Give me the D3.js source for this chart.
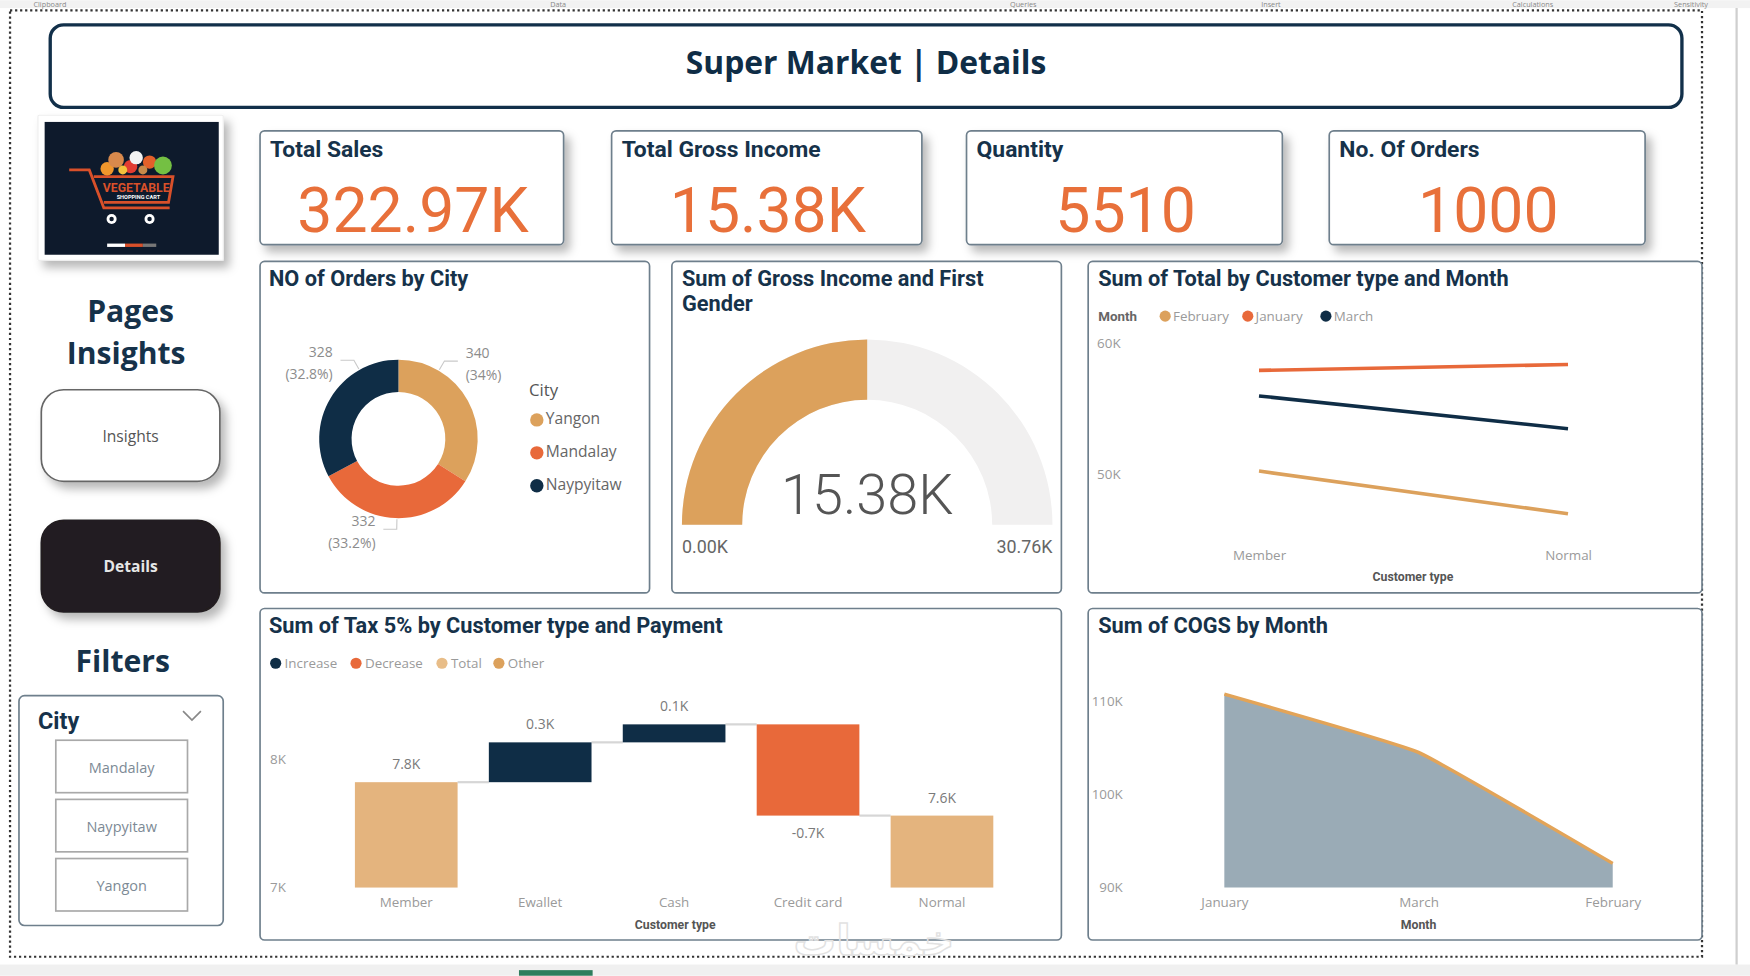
<!DOCTYPE html>
<html>
<head>
<meta charset="utf-8">
<script src="https://cdn.jsdelivr.net/npm/d3@7"></script>
<style>
  body { margin: 0; background: #fff; }
  svg { display: block; }
</style>
</head>
<body>
<div id="dash"></div>
<script>
// ---- data ----
const kpiTitles = ["Total Sales", "Total Gross Income", "Quantity", "No. Of Orders"];
const kpiValues = ["322.97K", "15.38K", "5510", "1000"];

const cities = ["Yangon", "Mandalay", "Naypyitaw"];
const cityOrders = [340, 332, 328];

const grossIncome = 15380;
const grossMax = 30760;

const custTypes = ["Member", "Normal"];
const months = ["February", "January", "March"];
const totalFeb = [50260, 47000];
const totalJan = [57950, 58400];
const totalMar = [56000, 53500];
const lineTicks = [50000, 60000];

const taxSteps = ["Member", "Ewallet", "Cash", "Credit card", "Normal"];
const taxValues = [7820, 310, 140, -710, 7560];
const taxKinds = ["total", "increase", "increase", "decrease", "total"];
const taxLabels = ["7.8K", "0.3K", "0.1K", "-0.7K", "7.6K"];
const taxTicks = [7000, 8000];
const taxLegend = ["Increase", "Decrease", "Total", "Other"];

const cogsMonths = ["January", "March", "February"];
const cogsValues = [110750, 104500, 92590];
const cogsTicks = [90000, 100000, 110000];

const cityFilter = ["Mandalay", "Naypyitaw", "Yangon"];
const ribbonTabs = ["Clipboard", "Data", "Queries", "Insert", "Calculations", "Sensitivity"];

// ---- look ----
const navy = "#0f2d46", orange = "#e8693a", tan = "#dca15c", lightTan = "#e4b47e";
const kpiOrange = "#e8703a", ink = "#16324a", axisGrey = "#9a9a9a", border = "#6e7f8c";
const fDin = "Roboto, 'Noto Sans', sans-serif";
const fUi = "'Open Sans', 'Noto Sans', sans-serif";

const svg = d3.select("#dash")
    .append("svg")
    .attr("width", 1750)
    .attr("height", 976)
    .attr("viewBox", "0 0 1568 874");

const defs = svg.append("defs");
const shadow = defs.append("filter").attr("id", "shadow")
    .attr("x", "-20%").attr("y", "-20%").attr("width", "150%").attr("height", "170%");
shadow.append("feDropShadow").attr("dx", 5).attr("dy", 6).attr("stdDeviation", 4.5)
    .attr("flood-color", "#000").attr("flood-opacity", 0.28);

function panel(x, y, w, h, opts = {}) {
    return svg.append("rect")
        .attr("x", x).attr("y", y).attr("width", w).attr("height", h)
        .attr("rx", opts.rx || 4)
        .attr("fill", opts.fill || "#fff")
        .attr("stroke", opts.stroke || border)
        .attr("stroke-width", opts.sw || 1.5)
        .attr("filter", opts.shadow ? "url(#shadow)" : null);
}

function label(x, y, str, size, opts = {}) {
    return svg.append("text")
        .attr("x", x).attr("y", y)
        .attr("font-family", opts.font || fDin)
        .attr("font-size", size)
        .attr("font-weight", opts.weight || "normal")
        .attr("fill", opts.fill || ink)
        .attr("text-anchor", opts.anchor || "start")
        .attr("dominant-baseline", opts.baseline || "auto")
        .text(str);
}

// ---- page chrome ----
svg.append("rect").attr("width", 1568).attr("height", 874).attr("fill", "#fff");
svg.append("rect").attr("width", 1568).attr("height", 7).attr("fill", "#f2f2f2");
const tabX = [30, 493, 905, 1130, 1355, 1500];
ribbonTabs.forEach((t, i) => label(tabX[i], 6, t, 6.5, {font: fUi, fill: "#888"}));
svg.append("rect").attr("x", 0).attr("y", 864).attr("width", 1568).attr("height", 10).attr("fill", "#f0f0f0");
svg.append("rect").attr("x", 465).attr("y", 869).attr("width", 66).attr("height", 5).attr("fill", "#2f7d5d");
svg.append("line").attr("x1", 1556).attr("x2", 1556).attr("y1", 7).attr("y2", 864)
    .attr("stroke", "#cfcfcf").attr("stroke-width", 2);
svg.append("rect").attr("x", 9).attr("y", 9).attr("width", 1516).attr("height", 848)
    .attr("fill", "none").attr("stroke", "#333").attr("stroke-width", 2)
    .attr("stroke-dasharray", "2,2.5");

// header
panel(45, 22, 1462, 74, {rx: 12, stroke: "#12304a", sw: 3});
label(776, 66, "Super Market | Details", 28.5, {font: fUi, weight: "bold", anchor: "middle", fill: "#0f2d46"});

// logo
panel(34, 103, 166, 130, {rx: 1, stroke: "#eee", sw: 1, shadow: true});
svg.append("rect").attr("x", 40).attr("y", 109).attr("width", 156).attr("height", 119).attr("fill", "#0e1a2c");
const cart = svg.append("g").attr("fill", "none").attr("stroke", "#d9502a").attr("stroke-width", 2.5);
cart.append("path").attr("d", "M62,152 L80,152 L93,186 L152,186");
cart.append("path").attr("d", "M84,158 L155,158 L151,181 L93,181");
const veg = [[96, 151, 6, "#f0962c"], [104, 143, 7, "#d8894c"], [117, 149, 6, "#e23c32"], [122, 141, 6, "#f3f3f3"],
             [134, 145, 6, "#e3602a"], [146, 148, 8, "#74c043"], [110, 152, 4, "#f4c23c"], [128, 152, 4, "#c98b4a"]];
svg.append("g").selectAll("circle").data(veg).join("circle")
    .attr("cx", d => d[0]).attr("cy", d => d[1]).attr("r", d => d[2]).attr("fill", d => d[3]);
label(122, 172, "VEGETABLE", 11, {font: fDin, weight: "bold", anchor: "middle", fill: "#d9502a"});
label(124, 178, "SHOPPING CART", 5, {font: fDin, weight: "bold", anchor: "middle", fill: "#fff"});
[100, 134].forEach(cx => {
    svg.append("circle").attr("cx", cx).attr("cy", 196).attr("r", 4.5).attr("fill", "#fff");
    svg.append("circle").attr("cx", cx).attr("cy", 196).attr("r", 2).attr("fill", "#0e1a2c");
});
svg.append("rect").attr("x", 96).attr("y", 218).attr("width", 16).attr("height", 3).attr("fill", "#fff");
svg.append("rect").attr("x", 112).attr("y", 218).attr("width", 16).attr("height", 3).attr("fill", "#d9502a");
svg.append("rect").attr("x", 128).attr("y", 218).attr("width", 12).attr("height", 3).attr("fill", "#777");

// side navigation
label(117, 288, "Pages", 27, {font: fUi, weight: "bold", anchor: "middle"});
label(113, 326, "Insights", 27, {font: fUi, weight: "bold", anchor: "middle"});
panel(37, 349, 160, 82, {rx: 20, stroke: "#666", sw: 1.5, shadow: true});
label(117, 396, "Insights", 14, {font: fUi, anchor: "middle", fill: "#555"});
panel(37, 466, 160, 82, {rx: 20, fill: "#231f20", stroke: "#231f20", shadow: true});
label(117, 512, "Details", 14, {font: fUi, weight: "bold", anchor: "middle", fill: "#e6e6e6"});
label(110, 602, "Filters", 27, {font: fUi, weight: "bold", anchor: "middle"});

// city slicer
panel(17, 623, 183, 206, {rx: 5});
label(34, 653, "City", 21, {weight: "bold"});
svg.append("path").attr("d", "M164,637 L172,645 L180,637").attr("fill", "none")
    .attr("stroke", "#888").attr("stroke-width", 1.5);
cityFilter.forEach((c, i) => {
    const y0 = 663 + i * 53;
    svg.append("rect").attr("x", 50).attr("y", y0).attr("width", 118).attr("height", 47)
        .attr("fill", "#fff").attr("stroke", "#a9a9a9").attr("stroke-width", 1.5);
    label(109, y0 + 29, c, 13, {font: fUi, anchor: "middle", fill: "#7d8a95"});
});

// ---- KPI cards ----
const kpiBoxes = [[233, 272], [548, 278], [866, 283], [1191, 283]];
kpiTitles.forEach((t, i) => {
    const [x, w] = kpiBoxes[i];
    panel(x, 117, w, 102, {shadow: true});
    label(x + 9, 140, t, 20.5, {weight: "bold"});
    label(x + w / 2 + 1, 208, kpiValues[i], 56, {anchor: "middle", fill: kpiOrange});
});

// ---- chart panels ----
panel(233, 234, 349, 297);
panel(602, 234, 349, 297);
panel(975, 234, 550, 297);
panel(233, 545, 718, 297);
panel(975, 545, 550, 297);

// ---- donut: NO of Orders by City ----
label(241, 256, "NO of Orders by City", 19.5, {weight: "bold"});
const donutC = [357, 393], rOut = 71, rIn = 42;
const cityColor = d3.scaleOrdinal().domain(cities).range([tan, orange, navy]);
const pie = d3.pie().sort(null).value(d => d.v);
const slices = pie(cities.map((c, i) => ({c, v: cityOrders[i]})));
const arc = d3.arc().innerRadius(rIn).outerRadius(rOut);
const donut = svg.append("g").attr("transform", `translate(${donutC})`);
donut.selectAll("path").data(slices).join("path")
    .attr("d", arc).attr("fill", d => cityColor(d.data.c));
const totalOrders = d3.sum(cityOrders);
slices.forEach(s => {
    const mid = (s.startAngle + s.endAngle) / 2;
    const nearest = Math.round(mid / Math.PI) * Math.PI;
    const a = nearest + (mid - nearest) * 0.5;
    const p1 = [(rOut + 1) * Math.sin(a), -(rOut + 1) * Math.cos(a)];
    const p2 = [(rOut + 10) * Math.sin(a), -(rOut + 10) * Math.cos(a)];
    const side = Math.sin(a) > 0.05 ? 1 : -1;
    const p3 = [p2[0] + side * 12, p2[1]];
    donut.append("polyline").attr("points", [p1, p2, p3].join(" "))
        .attr("fill", "none").attr("stroke", "#c9c9c9").attr("stroke-width", 1);
    const pct = d3.format(".3~")(s.data.v / totalOrders * 100) + "%";
    [s.data.v, `(${pct})`].forEach((t, k) => {
        donut.append("text")
            .attr("x", p3[0] + side * 7).attr("y", p3[1] - 6 + k * 19.5)
            .attr("dominant-baseline", "middle")
            .attr("text-anchor", side > 0 ? "start" : "end")
            .attr("font-family", fUi).attr("font-size", 12.5).attr("fill", "#8c8c8c")
            .text(t);
    });
});
label(474, 351, "City", 15, {font: fUi, fill: "#555", baseline: "middle"});
cities.forEach((c, i) => {
    const y0 = 376 + i * 29.5;
    svg.append("circle").attr("cx", 481).attr("cy", y0).attr("r", 6).attr("fill", cityColor(c));
    label(489, y0, c, 14, {font: fUi, fill: "#666", baseline: "middle"});
});

// ---- gauge: Sum of Gross Income ----
label(611, 256, "Sum of Gross Income and First", 19.5, {weight: "bold"});
label(611, 278, "Gender", 19.5, {weight: "bold"});
const gaugeC = [777, 470];
const gScale = d3.scaleLinear().domain([0, grossMax]).range([-Math.PI / 2, Math.PI / 2]);
const gArc = d3.arc().innerRadius(112).outerRadius(166);
const gauge = svg.append("g").attr("transform", `translate(${gaugeC})`);
gauge.append("path").attr("d", gArc({startAngle: gScale(0), endAngle: gScale(grossMax)})).attr("fill", "#f1f0f0");
gauge.append("path").attr("d", gArc({startAngle: gScale(0), endAngle: gScale(grossIncome)})).attr("fill", tan);
const kFmt = v => (v / 1000).toFixed(2) + "K";
label(777, 460, kFmt(grossIncome), 50, {weight: 300, anchor: "middle", fill: "#555"});
label(611, 495, kFmt(0), 16, {fill: "#666"});
label(943, 495, kFmt(grossMax), 16, {fill: "#666", anchor: "end"});

// ---- lines: Sum of Total by Customer type and Month ----
label(984, 256, "Sum of Total by Customer type and Month", 19.5, {weight: "bold"});
const monthColor = d3.scaleOrdinal().domain(months).range([tan, orange, navy]);
label(984, 284, "Month", 12, {weight: "bold", fill: "#666", baseline: "middle"});
const monthLegX = [1044, 1118, 1188];
months.forEach((m, i) => {
    svg.append("circle").attr("cx", monthLegX[i]).attr("cy", 283).attr("r", 5).attr("fill", monthColor(m));
    label(monthLegX[i] + 7, 284, m, 12, {font: fUi, fill: axisGrey, baseline: "middle"});
});
const xLine = d3.scalePoint().domain(custTypes).range([1045, 1488]).padding(0.3);
const yLine = d3.scaleLinear().domain([45300, 61500]).range([480, 290]);
const kTick = d => d / 1000 + "K";
svg.append("g").attr("transform", "translate(983,0)")
    .call(d3.axisRight(yLine).tickValues(lineTicks).tickFormat(kTick).tickSize(0).tickPadding(0));
svg.append("g").attr("transform", "translate(0,490)")
    .call(d3.axisBottom(xLine).tickSize(0).tickPadding(3));
const lineSeries = [totalFeb, totalJan, totalMar];
const lineGen = d3.line().x((d, i) => xLine(custTypes[i])).y(d => yLine(d));
svg.append("g").selectAll("path").data(lineSeries).join("path")
    .attr("d", lineGen).attr("fill", "none")
    .attr("stroke", (d, i) => monthColor(months[i])).attr("stroke-width", 3.2);
label(1266, 520, "Customer type", 11, {weight: "bold", fill: "#555", anchor: "middle"});

// ---- waterfall: Sum of Tax 5% ----
label(241, 567, "Sum of Tax 5% by Customer type and Payment", 19.5, {weight: "bold"});
const kindColor = {increase: navy, decrease: orange, total: lightTan};
const legColor = [navy, orange, "#e8bd88", tan];
const taxLegX = [247, 319, 396, 447];
taxLegend.forEach((t, i) => {
    svg.append("circle").attr("cx", taxLegX[i]).attr("cy", 594).attr("r", 5).attr("fill", legColor[i]);
    label(taxLegX[i] + 8, 595, t, 12, {font: fUi, fill: axisGrey, baseline: "middle"});
});
const xTax = d3.scaleBand().domain(taxSteps).range([264, 944]).paddingInner(0.2333).paddingOuter(0.45);
const yTax = d3.scaleLinear().domain([7000, 8520]).range([795, 620]);
let running = 0;
const taxBars = taxSteps.map((s, i) => {
    let lo, hi;
    if (taxKinds[i] === "total") {
        lo = yTax.domain()[0]; hi = taxValues[i]; running = taxValues[i];
    } else {
        lo = running; hi = running + taxValues[i]; running = hi;
    }
    return {s, lo, hi, kind: taxKinds[i], end: running, lab: taxLabels[i], v: taxValues[i]};
});
const wf = svg.append("g");
taxBars.slice(0, -1).forEach((b, i) => {
    wf.append("line")
        .attr("x1", xTax(b.s) + xTax.bandwidth()).attr("x2", xTax(taxBars[i + 1].s))
        .attr("y1", yTax(b.end)).attr("y2", yTax(b.end))
        .attr("stroke", "#d6d6d6").attr("stroke-width", 2);
});
wf.selectAll("rect").data(taxBars).join("rect")
    .attr("x", d => xTax(d.s)).attr("width", xTax.bandwidth())
    .attr("y", d => yTax(Math.max(d.lo, d.hi)))
    .attr("height", d => Math.abs(yTax(d.lo) - yTax(d.hi)))
    .attr("fill", d => kindColor[d.kind]);
wf.selectAll("text").data(taxBars).join("text")
    .attr("x", d => xTax(d.s) + xTax.bandwidth() / 2)
    .attr("y", d => d.v < 0 ? yTax(d.hi) + 17 : yTax(Math.max(d.lo, d.hi)) - 15)
    .attr("text-anchor", "middle").attr("dominant-baseline", "middle")
    .attr("font-family", fUi).attr("font-size", 12.5).attr("fill", "#7a7a7a")
    .text(d => d.lab);
svg.append("g").attr("transform", "translate(242,0)")
    .call(d3.axisRight(yTax).tickValues(taxTicks).tickFormat(kTick).tickSize(0).tickPadding(0));
svg.append("g").attr("transform", "translate(0,801)")
    .call(d3.axisBottom(xTax).tickSize(0).tickPadding(3));
label(605, 832, "Customer type", 11, {weight: "bold", fill: "#555", anchor: "middle"});

// ---- area: Sum of COGS by Month ----
label(984, 567, "Sum of COGS by Month", 19.5, {weight: "bold"});
const xCogs = d3.scalePoint().domain(cogsMonths).range([1097, 1445]);
const yCogs = d3.scaleLinear().domain([90000, 113350]).range([795, 600]);
const cogsPts = cogsMonths.map((m, i) => ({m, v: cogsValues[i]}));
const cogsCurve = d3.curveCardinal.tension(0.7);
svg.append("path").datum(cogsPts)
    .attr("d", d3.area().curve(cogsCurve).x(d => xCogs(d.m)).y0(yCogs(90000)).y1(d => yCogs(d.v)))
    .attr("fill", "#9aabb6");
svg.append("path").datum(cogsPts)
    .attr("d", d3.line().curve(cogsCurve).x(d => xCogs(d.m)).y(d => yCogs(d.v)))
    .attr("fill", "none").attr("stroke", "#e3a458").attr("stroke-width", 3);
svg.append("g").attr("transform", "translate(1006,0)")
    .call(d3.axisLeft(yCogs).tickValues(cogsTicks).tickFormat(kTick).tickSize(0).tickPadding(0));
svg.append("g").attr("transform", "translate(0,801)")
    .call(d3.axisBottom(xCogs).tickSize(0).tickPadding(3));
label(1271, 832, "Month", 11, {weight: "bold", fill: "#555", anchor: "middle"});

// axis styling shared by every chart
svg.selectAll(".domain").remove();
svg.selectAll(".tick text")
    .attr("font-family", fUi).attr("font-size", 12).attr("fill", axisGrey);

// faint watermark, kept below the axis labels
label(783, 855, "خمسات", 38, {font: "'DejaVu Sans', sans-serif", weight: "bold", anchor: "middle", fill: "none"})
    .attr("stroke", "#e2e2e2").attr("stroke-width", 1.3);
</script>
</body>
</html>
